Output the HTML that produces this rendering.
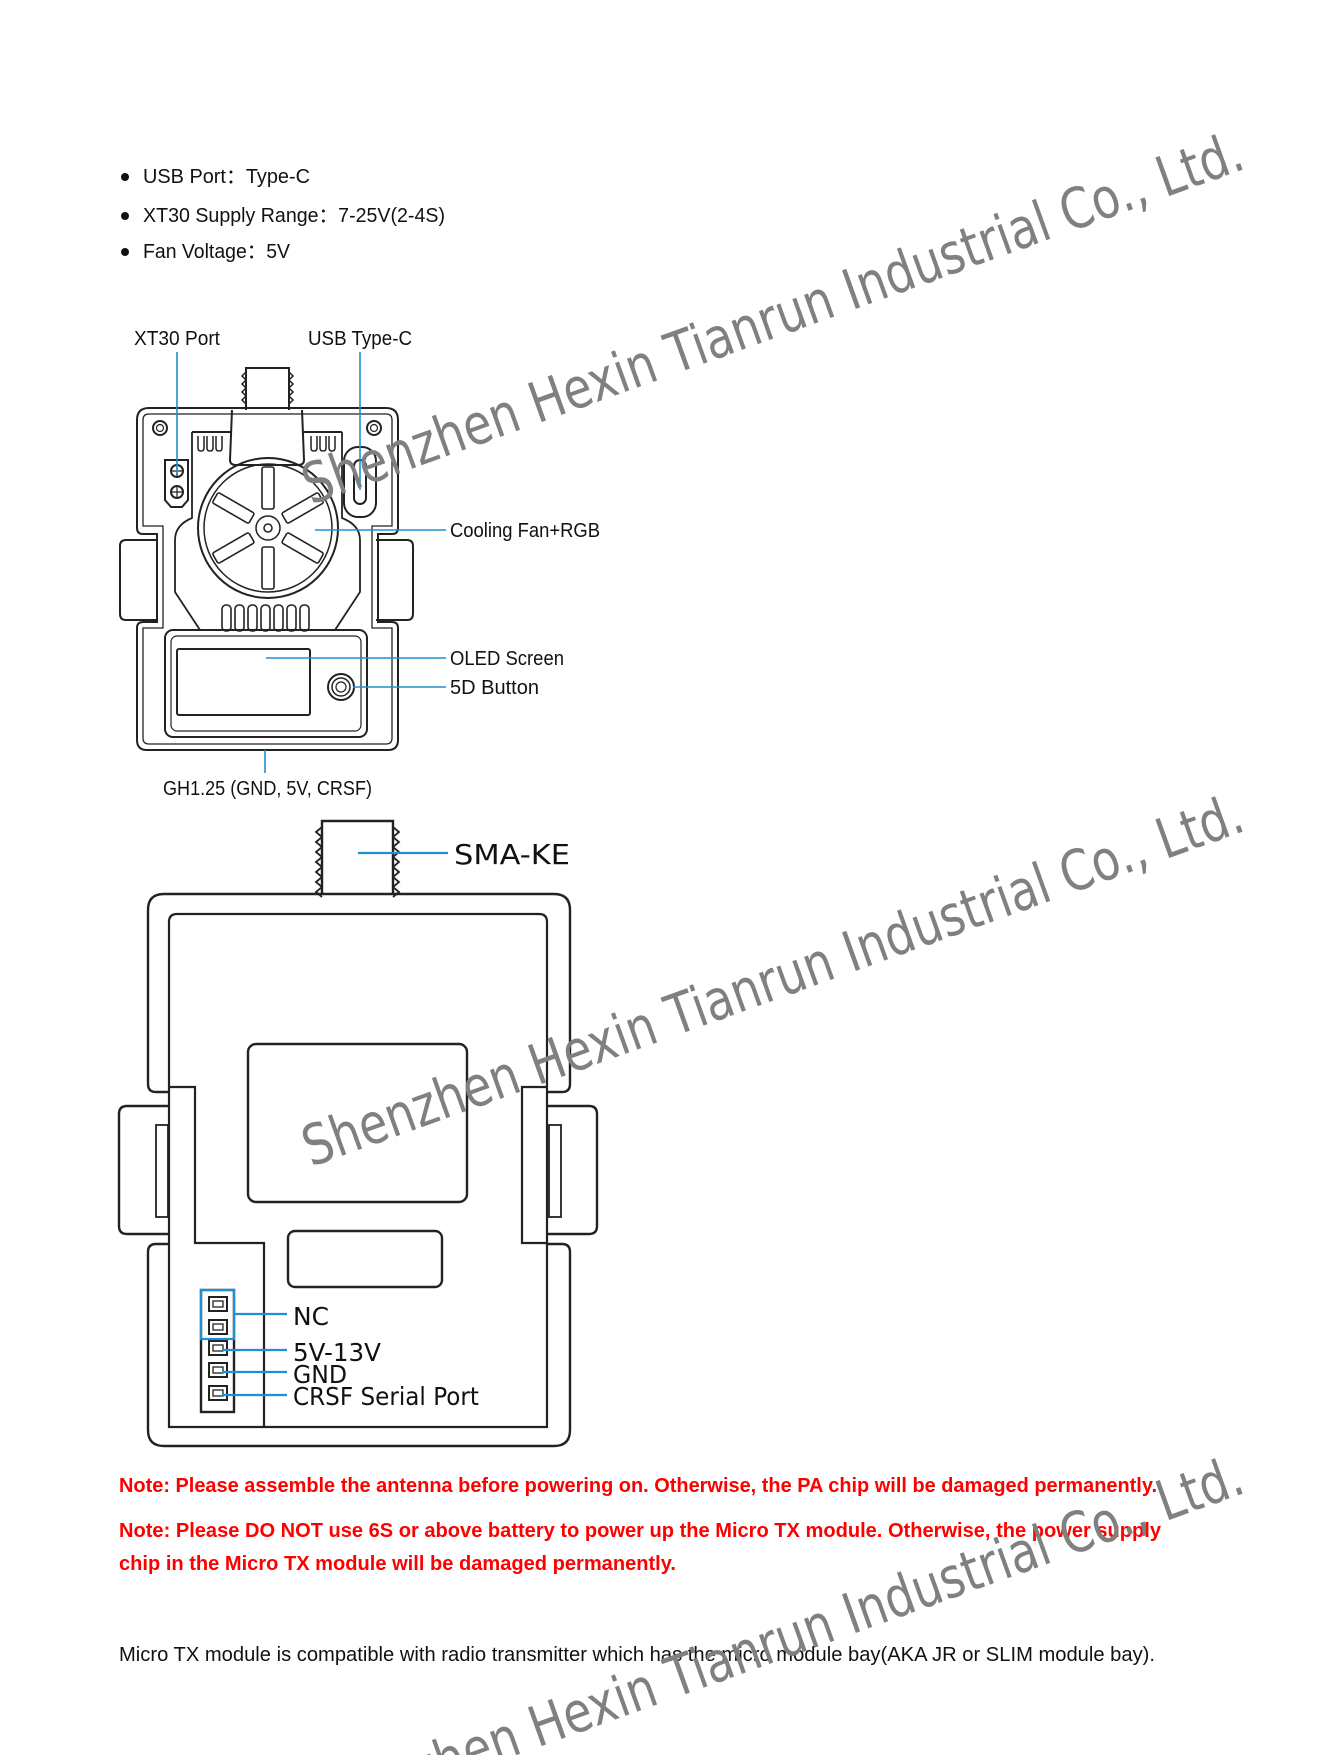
<!DOCTYPE html>
<html><head><meta charset="utf-8"><style>
html,body{margin:0;padding:0;background:#fff;}
svg{display:block;}
</style></head><body>
<svg width="1324" height="1755" viewBox="0 0 1324 1755" xmlns="http://www.w3.org/2000/svg" font-family="Liberation Sans, sans-serif">
<rect width="1324" height="1755" fill="#fff"/>

<g fill="#111" font-size="20">
<circle cx="125" cy="177" r="4"/><circle cx="125" cy="216" r="4"/><circle cx="125" cy="252" r="4"/>
<text x="143" y="183" textLength="167" lengthAdjust="spacingAndGlyphs">USB Port：Type-C</text>
<text x="143" y="222" textLength="302" lengthAdjust="spacingAndGlyphs">XT30 Supply Range：7-25V(2-4S)</text>
<text x="143" y="258" textLength="147" lengthAdjust="spacingAndGlyphs">Fan Voltage：5V</text>
</g>

<!-- top device -->
<g fill="none" stroke="#222" stroke-width="2">
 <path d="M246,410 V368 H289 V410"/>
 <path d="M246,372 l-4,4 4,4 -4,4 4,4 -4,4 4,4 -4,4 4,4 M289,372 l4,4 -4,4 4,4 -4,4 4,4 -4,4 4,4 -4,4" stroke-width="1.5"/>
 <path d="M137,420 Q137,408 149,408 H386 Q398,408 398,420 V528 Q398,534 392,534 H378 V622 H392 Q398,622 398,628 V740 Q398,750 388,750 H147 Q137,750 137,740 V628 Q137,622 143,622 H157 V534 H143 Q137,534 137,528 Z"/>
 <path d="M143,420 Q143,414 149,414 H386 Q392,414 392,420 V526 H372 V628 H392 V738 Q392,744 386,744 H149 Q143,744 143,738 V628 H163 V526 H143 Z" stroke-width="1.3"/>
 <path d="M157,540 H126 Q120,540 120,546 V614 Q120,620 126,620 H157" />
 <path d="M376,540 H407 Q413,540 413,546 V614 Q413,620 407,620 H376" />
 <path d="M192,432 V518 Q175,525 175,540 V592 L200,630 M342,432 V518 Q360,525 360,540 V592 L335,630" stroke-width="1.8"/>
 <path d="M192,432 H232 M302,432 H342" />
 <path d="M232,410 L230,460 Q230,465 236,465 H298 Q304,465 304,460 L302,410"/>
 <g stroke-width="1.5">
 <path d="M198,436 V448 Q198,451 201,451 Q204,451 204,448 V436 M207,436 V448 Q207,451 210,451 Q213,451 213,448 V436 M216,436 V448 Q216,451 219,451 Q222,451 222,448 V436"/>
 <path d="M311,436 V448 Q311,451 314,451 Q317,451 317,448 V436 M320,436 V448 Q320,451 323,451 Q326,451 326,448 V436 M329,436 V448 Q329,451 332,451 Q335,451 335,448 V436"/>
 </g>
 <circle cx="160" cy="428" r="7"/><circle cx="160" cy="428" r="3.5" stroke-width="1.2"/>
 <circle cx="374" cy="428" r="7"/><circle cx="374" cy="428" r="3.5" stroke-width="1.2"/>
 <path d="M165,460 H188 V500 L182,507 H171 L165,500 Z"/>
 <circle cx="177" cy="471" r="6"/><circle cx="177" cy="492" r="6"/>
 <path d="M172,471 H182 M177,466 V476 M172,492 H182 M177,487 V497" stroke-width="1.2"/>
 <rect x="344" y="447" width="32" height="70" rx="14"/>
 <rect x="354" y="460" width="12" height="44" rx="6"/>
 <circle cx="268" cy="528" r="70"/>
 <circle cx="268" cy="528" r="64" stroke-width="1.5"/>
 <g stroke-width="1.6">
  <rect x="262" y="467" width="12" height="42" rx="2"/>
  <rect x="262" y="467" width="12" height="42" rx="2" transform="rotate(60 268 528)"/>
  <rect x="262" y="467" width="12" height="42" rx="2" transform="rotate(120 268 528)"/>
  <rect x="262" y="467" width="12" height="42" rx="2" transform="rotate(180 268 528)"/>
  <rect x="262" y="467" width="12" height="42" rx="2" transform="rotate(240 268 528)"/>
  <rect x="262" y="467" width="12" height="42" rx="2" transform="rotate(300 268 528)"/>
 </g>
 <circle cx="268" cy="528" r="12" stroke-width="1.5"/>
 <circle cx="268" cy="528" r="4" stroke-width="1.5"/>
 <g stroke-width="1.6">
  <rect x="222" y="605" width="9" height="26" rx="4"/><rect x="235" y="605" width="9" height="26" rx="4"/>
  <rect x="248" y="605" width="9" height="26" rx="4"/><rect x="261" y="605" width="9" height="26" rx="4"/>
  <rect x="274" y="605" width="9" height="26" rx="4"/><rect x="287" y="605" width="9" height="26" rx="4"/>
  <rect x="300" y="605" width="9" height="26" rx="4"/>
 </g>
 <rect x="165" y="630" width="202" height="107" rx="8"/>
 <rect x="171" y="636" width="190" height="95" rx="6" stroke-width="1.2"/>
 <rect x="177" y="649" width="133" height="66" rx="2"/>
 <circle cx="341" cy="687" r="13"/><circle cx="341" cy="687" r="9" stroke-width="1.5"/><circle cx="341" cy="687" r="5" stroke-width="1.2"/>
</g>
<g stroke="#1e90d0" stroke-width="1.6" fill="none">
 <path d="M177,352 V473 M360,352 V490 M315,530 H446 M266,658 H446 M353,687 H446 M265,750 V773"/>
</g>
<g fill="#111" font-size="20">
 <text x="134" y="345" textLength="86" lengthAdjust="spacingAndGlyphs">XT30 Port</text>
 <text x="308" y="345" textLength="104" lengthAdjust="spacingAndGlyphs">USB Type-C</text>
 <text x="450" y="537" textLength="150" lengthAdjust="spacingAndGlyphs">Cooling Fan+RGB</text>
 <text x="450" y="665" textLength="114" lengthAdjust="spacingAndGlyphs">OLED Screen</text>
 <text x="450" y="694" textLength="89" lengthAdjust="spacingAndGlyphs">5D Button</text>
 <text x="163" y="795" textLength="209" lengthAdjust="spacingAndGlyphs">GH1.25 (GND, 5V, CRSF)</text>
</g>

<!-- bottom device -->
<g transform="translate(0,7)">
<g fill="none" stroke="#222" stroke-width="2.4">
 <path d="M322,887 V814 H393 V887"/>
 <path d="M322,820 l-6,5 6,5 -6,5 6,5 -6,5 6,5 -6,5 6,5 -6,5 6,5 -6,5 6,5 -6,5 6,5 M393,820 l6,5 -6,5 6,5 -6,5 6,5 -6,5 6,5 -6,5 6,5 -6,5 6,5 -6,5 6,5 -6,5" stroke-width="1.8"/>
 <path d="M169,1085 H156 Q148,1085 148,1077 V903 Q148,887 164,887 H554 Q570,887 570,903 V1077 Q570,1085 562,1085 H547"/>
 <path d="M169,1237 H156 Q148,1237 148,1245 V1423 Q148,1439 164,1439 H554 Q570,1439 570,1423 V1245 Q570,1237 562,1237 H547"/>
 <path d="M169,1420 V915 Q169,907 177,907 H539 Q547,907 547,915 V1420 Z" stroke-width="2.2"/>
 <path d="M169,1080 H195 V1236 H264 V1420" stroke-width="2.2"/>
 <path d="M547,1080 H522 V1236 H547" stroke-width="2.2"/>
 <path d="M169,1099 H127 Q119,1099 119,1107 V1219 Q119,1227 127,1227 H169"/>
 <rect x="156" y="1118" width="12" height="92" stroke-width="1.8"/>
 <path d="M547,1099 H589 Q597,1099 597,1107 V1219 Q597,1227 589,1227 H547"/>
 <rect x="549" y="1118" width="12" height="92" stroke-width="1.8"/>
 <rect x="248" y="1037" width="219" height="158" rx="8"/>
 <rect x="288" y="1224" width="154" height="56" rx="7"/>
 <rect x="201" y="1283" width="33" height="122"/>
 <g stroke-width="2">
  <rect x="209" y="1290" width="18" height="14"/><rect x="213" y="1294" width="10" height="6" stroke-width="1.3"/>
  <rect x="209" y="1313" width="18" height="14"/><rect x="213" y="1317" width="10" height="6" stroke-width="1.3"/>
  <rect x="209" y="1334" width="18" height="14"/><rect x="213" y="1338" width="10" height="6" stroke-width="1.3"/>
  <rect x="209" y="1356" width="18" height="14"/><rect x="213" y="1360" width="10" height="6" stroke-width="1.3"/>
  <rect x="209" y="1379" width="18" height="14"/><rect x="213" y="1383" width="10" height="6" stroke-width="1.3"/>
 </g>
</g>
<g stroke="#1e90d0" stroke-width="2.2" fill="none">
 <path d="M358,846 H448"/>
 <rect x="201" y="1283" width="33" height="49"/>
 <path d="M234,1307 H287 M222,1343 H287 M222,1365 H287 M222,1388 H287"/>
</g>
<g fill="#111" font-family="DejaVu Sans, Liberation Sans, sans-serif">
 <text x="454" y="857" font-size="28" textLength="116" lengthAdjust="spacingAndGlyphs">SMA-KE</text>
 <text x="293" y="1318" font-size="25" textLength="36" lengthAdjust="spacingAndGlyphs">NC</text>
 <text x="293" y="1354" font-size="25" textLength="88" lengthAdjust="spacingAndGlyphs">5V-13V</text>
 <text x="293" y="1376" font-size="25" textLength="54" lengthAdjust="spacingAndGlyphs">GND</text>
 <text x="293" y="1398" font-size="25" textLength="186" lengthAdjust="spacingAndGlyphs">CRSF Serial Port</text>
</g>
</g>

<g fill="#ff0000" font-size="20" font-weight="bold">
 <text x="119" y="1492" textLength="1038" lengthAdjust="spacingAndGlyphs">Note: Please assemble the antenna before powering on. Otherwise, the PA chip will be damaged permanently.</text>
 <text x="119" y="1537" textLength="1042" lengthAdjust="spacingAndGlyphs">Note: Please DO NOT use 6S or above battery to power up the Micro TX module. Otherwise, the power supply</text>
 <text x="119" y="1570" textLength="557" lengthAdjust="spacingAndGlyphs">chip in the Micro TX module will be damaged permanently.</text>
</g>
<text x="119" y="1661" fill="#111" font-size="20" textLength="1036" lengthAdjust="spacingAndGlyphs">Micro TX module is compatible with radio transmitter which has the micro module bay(AKA JR or SLIM module bay).</text>

<g fill="#808080" font-family="DejaVu Sans, Liberation Sans, sans-serif" font-size="56">
 <text x="311" y="505" textLength="995" lengthAdjust="spacingAndGlyphs" transform="rotate(-19.8 311 505)">Shenzhen Hexin Tianrun Industrial Co., Ltd.</text>
 <text x="311" y="1167" textLength="995" lengthAdjust="spacingAndGlyphs" transform="rotate(-19.8 311 1167)">Shenzhen Hexin Tianrun Industrial Co., Ltd.</text>
 <text x="311" y="1829" textLength="995" lengthAdjust="spacingAndGlyphs" transform="rotate(-19.8 311 1829)">Shenzhen Hexin Tianrun Industrial Co., Ltd.</text>
</g>
</svg>
</body></html>
